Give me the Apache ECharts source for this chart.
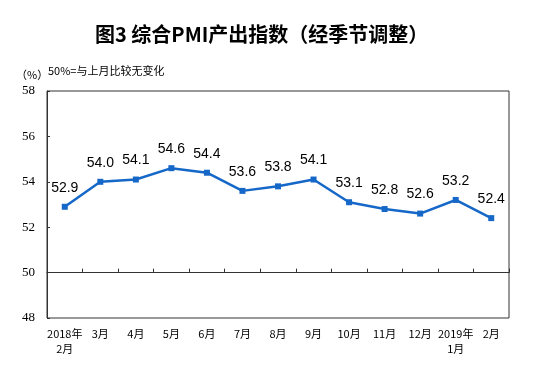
<!DOCTYPE html>
<html><head><meta charset="utf-8">
<script src="https://cdn.jsdelivr.net/npm/echarts@6/dist/echarts.min.js"></script>
<style>html,body{margin:0;padding:0;background:#fff}#c{width:553px;height:389px}</style>
</head><body><div id="c"></div>
<script>
var categories = ['2018年\n2月','3月','4月','5月','6月','7月','8月','9月','10月','11月','12月','2019年\n1月','2月'];
var values = [52.9, 54.0, 54.1, 54.6, 54.4, 53.6, 53.8, 54.1, 53.1, 52.8, 52.6, 53.2, 52.4];
var yTicks = [48, 50, 52, 54, 56, 58];

var chart = echarts.init(document.getElementById('c'));
var gridTop = 91, gridBottom = 71, gridH = 389 - gridTop - gridBottom;
var yMin = 48, yMax = 58;
var offset50 = -(50 - yMin) / (yMax - yMin) * gridH;
chart.setOption({
  animation: false,
  title: {
    text: '图3 综合PMI产出指数（经季节调整）',
    left: 90, top: 19,
    textStyle: {fontFamily: 'Noto Sans CJK SC', fontSize: 20, fontWeight: 'bold', color: '#000'}
  },
  graphic: [
    {type: 'text', left: 16, top: 69, style: {text: '（%）', font: '11px "Noto Sans CJK SC"', fill: '#000'}},
    {type: 'text', left: 48, top: 65, style: {text: '50%=与上月比较无变化', font: '11px "Noto Sans CJK SC"', fill: '#000'}}
  ],
  grid: {left: 47, right: 44, top: gridTop, bottom: gridBottom, show: true, borderColor: '#333', borderWidth: 1},
  xAxis: [{
    type: 'category', data: categories, boundaryGap: true,
    axisLine: {show: false}, axisTick: {show: false},
    axisLabel: {fontFamily: 'Noto Sans CJK SC', fontSize: 11, color: '#000', margin: 8, lineHeight: 15, interval: 0}
  }, {
    type: 'category', data: categories, boundaryGap: true, position: 'bottom', offset: offset50,
    axisLine: {show: true, lineStyle: {color: '#333', width: 1}},
    axisTick: {show: true, inside: true, length: 4, lineStyle: {color: '#333'}, interval: 0},
    axisLabel: {show: false}
  }],
  yAxis: {
    type: 'value', min: yMin, max: yMax, interval: 2,
    axisLine: {show: true, lineStyle: {color: '#333'}},
    axisTick: {show: true, inside: true, length: 3, lineStyle: {color: '#333'}},
    splitLine: {show: false},
    axisLabel: {fontFamily: 'Liberation Serif', fontSize: 13, color: '#000', margin: 12,
      formatter: function (v) { return yTicks.indexOf(v) >= 0 ? String(v) : ''; }}
  },
  series: [{
    type: 'line', data: values, xAxisIndex: 0,
    symbol: 'rect', symbolSize: 6, showAllSymbol: true,
    lineStyle: {color: '#1668c8', width: 2.5},
    itemStyle: {color: '#1668c8'},
    label: {show: true, position: 'top', distance: 9, fontFamily: 'Liberation Sans', fontSize: 14, color: '#000',
      formatter: function (p) { return p.value.toFixed(1); }}
  }]
});
</script></body></html>
